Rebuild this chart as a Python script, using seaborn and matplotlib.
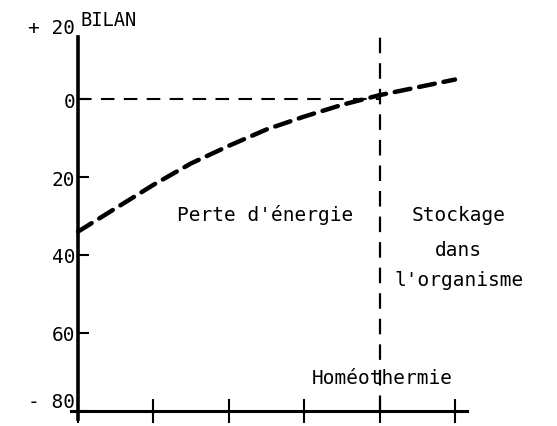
import matplotlib
matplotlib.use("Agg")
import matplotlib.pyplot as plt
import seaborn as sns
import pandas as pd

# ---- data ----
x_vals = [0, 0.5, 1, 1.5, 2, 2.5, 3, 3.5, 4, 4.5, 5]
bilan = [-34, -28, -22, -16.5, -12, -7.8, -4.5, -1.5, 1, 3, 5]
y_ticks = [0, -20, -40, -60, -80]
y_tick_labels = ["0", "20", "40", "60", "- 80"]
top_label = "+ 20"
x_ticks = [0, 1, 2, 3, 4, 5]
homeo_x = 4
zero_y = 0

sns.set_theme(style="white")
plt.rcParams["font.family"] = ["DejaVu Sans Mono", "DejaVu Sans"]
plt.rcParams["text.color"] = "black"
plt.rcParams["ytick.color"] = "black"
plt.rcParams["xtick.color"] = "black"

fig = plt.figure(figsize=(5.57, 4.27), dpi=100)
ax = fig.add_axes([0.1266, 0.0169, 0.712, 0.895])

df = pd.DataFrame({"x": x_vals, "bilan": bilan})
sns.lineplot(data=df, x="x", y="bilan", ax=ax, color="black", lw=3.2,
             linestyle=(0, (3.6, 2.0)), dash_capstyle="round")

ax.hlines(zero_y, 0, homeo_x, colors="black", lw=1.5, linestyles=(0, (6.5, 4.5)))
ax.vlines(homeo_x, -80, 16, colors="black", lw=1.6, linestyles=(0, (7, 4.5)))

ax.set_xlim(-0.1, 5.16)
ax.set_ylim(-82, 16)

for s in ["top", "right"]:
    ax.spines[s].set_visible(False)
ax.spines["left"].set_position(("data", 0))
ax.spines["bottom"].set_position(("data", -80))
ax.spines["left"].set_linewidth(2.6)
ax.spines["bottom"].set_linewidth(2.2)
ax.spines["left"].set_color("black")
ax.spines["bottom"].set_color("black")

ax.set_xticks(x_ticks)
ax.set_xticklabels([])
ax.tick_params(axis="x", direction="inout", length=17, width=1.5, color="black", bottom=True)
ax.set_yticks(y_ticks)
ax.set_yticklabels(y_tick_labels, fontsize=14, color="black")
ax.tick_params(axis="y", direction="in", length=8, width=1.5, color="black", pad=2, left=True)
for lab in ax.get_yticklabels():
    if lab.get_text() == "- 80":
        lab.set_va("bottom")
ax.set_xlabel("")
ax.set_ylabel("")

txt = dict(color="black", fontsize=14)
ax.text(-0.04, 16, top_label, ha="right", va="bottom", **txt)
ax.text(0.03, 18.0, "BILAN", ha="left", va="bottom", color="black", fontsize=13.5)

ax.text(1.31, -29.5, "Perte d'énergie", ha="left", va="center", **txt)
ax.text(5.05, -29.5, "Stockage", ha="center", va="center", **txt)
ax.text(5.05, -38.5, "dans", ha="center", va="center", **txt)
ax.text(5.05, -46.2, "l'organisme", ha="center", va="center", **txt)
ax.text(4.03, -71.3, "Homéothermie", ha="center", va="center", **txt)

fig.savefig("out.png", dpi=100)
